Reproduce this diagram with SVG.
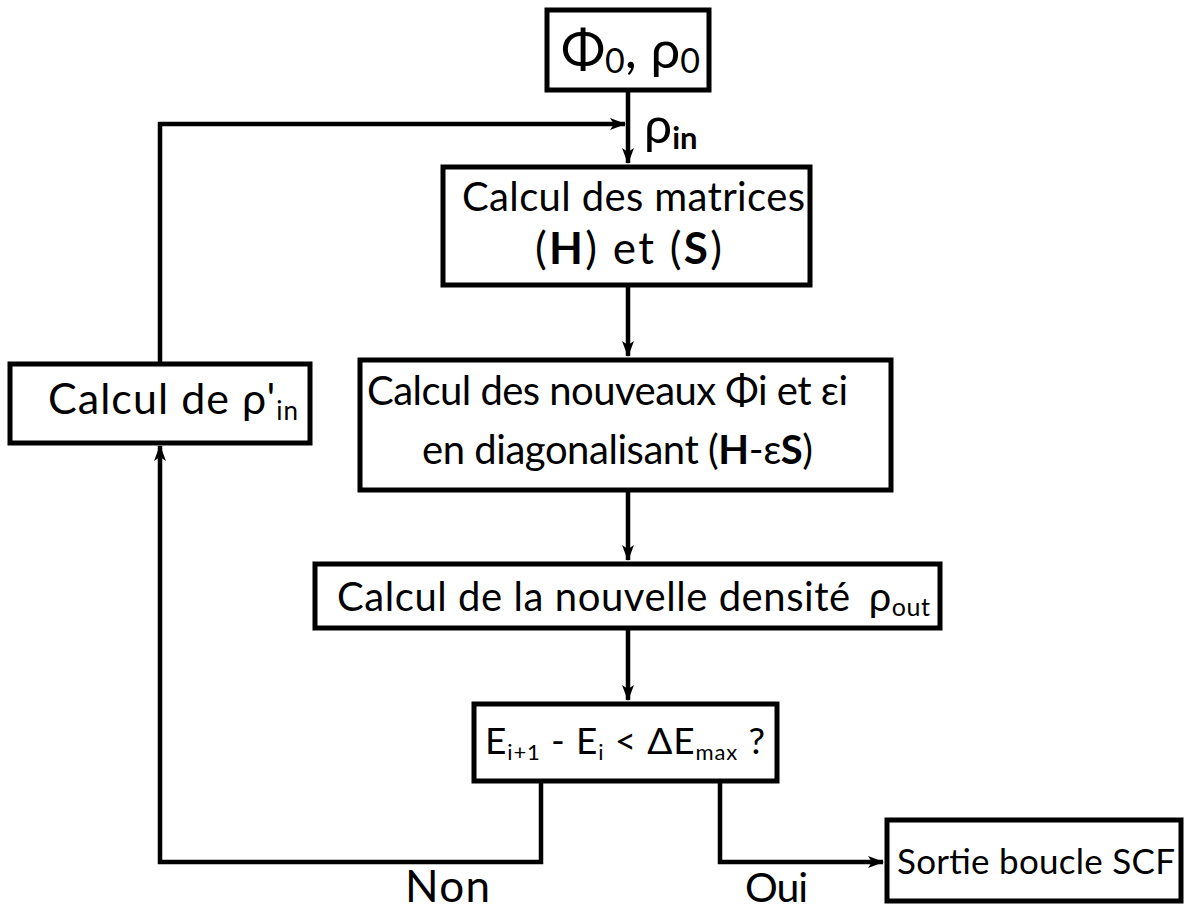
<svg xmlns="http://www.w3.org/2000/svg" width="1194" height="911" viewBox="0 0 1194 911">
<defs>
<marker id="arr" viewBox="0 0 16 12" refX="15" refY="6" markerWidth="16" markerHeight="12" markerUnits="userSpaceOnUse" orient="auto">
<path d="M0,0 L16,6 L0,12 L4,6 Z" fill="#000"/>
</marker>
<style>
.box{fill:#fff;stroke:#000;stroke-width:5}
.ln{fill:none;stroke:#000;stroke-width:4.5}
text{font-family:Lato,"Open Sans","DejaVu Sans",sans-serif;fill:#000}
.t{font-size:40px}
.b{font-weight:bold}
</style>
</defs>
<rect width="1194" height="911" fill="#fff"/>
<g id="connectors">
<path class="ln" d="M628,92 V163" marker-end="url(#arr)"/>
<path class="ln" d="M160,362 V124 H625" marker-end="url(#arr)"/>
<path class="ln" d="M628,287 V356" marker-end="url(#arr)"/>
<path class="ln" d="M628,492 V560" marker-end="url(#arr)"/>
<path class="ln" d="M628,630 V700" marker-end="url(#arr)"/>
<path class="ln" d="M541,783 V862 H160 V446" marker-end="url(#arr)"/>
<path class="ln" d="M720,783 V862 H883" marker-end="url(#arr)"/>
<text x="644" y="143" style="font-size:50px">ρ<tspan class="b" style="font-size:31px" dy="6">in</tspan></text>
<text x="405" y="902" style="font-size:44px" textLength="85">Non</text>
<text x="745" y="902" style="font-size:41px" textLength="63">Oui</text>
</g>
<g id="start">
<rect class="box" x="547" y="10" width="162" height="80"/>
<text x="561" y="68" style="font-size:53px" textLength="139">Φ<tspan style="font-size:34px" dy="5">0</tspan><tspan dy="-5">, ρ</tspan><tspan style="font-size:34px" dy="5">0</tspan></text>
</g>
<g id="matrices">
<rect class="box" x="443" y="167" width="367" height="118"/>
<text class="t" x="462" y="211" textLength="343">Calcul des matrices</text>
<text x="535" y="264" style="font-size:44px" textLength="187">(<tspan class="b">H</tspan>) et (<tspan class="b">S</tspan>)</text>
</g>
<g id="diag">
<rect class="box" x="360" y="360" width="531" height="130"/>
<text class="t" x="367" y="405" textLength="481">Calcul des nouveaux Φi et εi</text>
<text class="t" x="422" y="464" textLength="391">en diagonalisant (<tspan class="b">H</tspan>-ε<tspan class="b">S</tspan>)</text>
</g>
<g id="densite">
<rect class="box" x="315" y="564" width="625" height="64"/>
<text class="t" x="337" y="611" textLength="593">Calcul de la nouvelle densité<tspan dx="18">ρ</tspan><tspan style="font-size:25px" dy="5">out</tspan></text>
</g>
<g id="test">
<rect class="box" x="474" y="704" width="303" height="77"/>
<text x="485" y="754" style="font-size:37px" textLength="280">E<tspan style="font-size:22px" dy="6">i+1</tspan><tspan dy="-6"> - E</tspan><tspan style="font-size:22px" dy="6">i</tspan><tspan dy="-6"> &lt; ΔE</tspan><tspan style="font-size:22px" dy="6">max</tspan><tspan dy="-6"> ?</tspan></text>
</g>
<g id="rhoin">
<rect class="box" x="10" y="364" width="300" height="79"/>
<text x="48" y="414" style="font-size:43px" textLength="250">Calcul de ρ'<tspan style="font-size:26px" dy="6">in</tspan></text>
</g>
<g id="sortie">
<rect class="box" x="887" y="820" width="294" height="81"/>
<text x="897" y="874" style="font-size:35px" textLength="278">Sortie boucle SCF</text>
</g>
</svg>
